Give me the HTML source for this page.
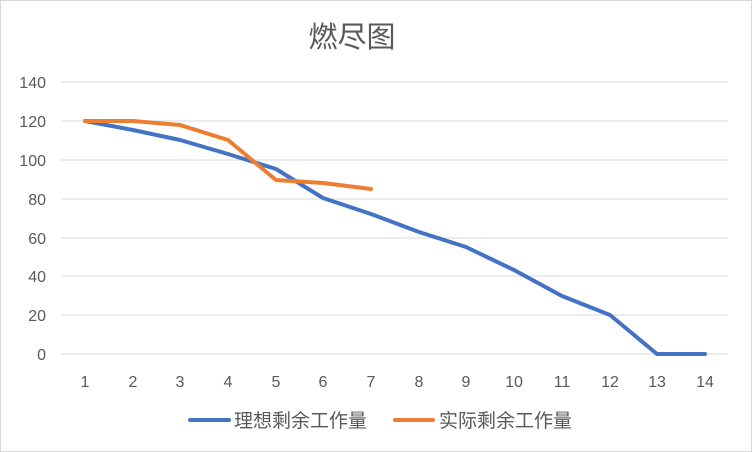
<!DOCTYPE html>
<html><head><meta charset="utf-8"><style>
html,body{margin:0;padding:0;background:#fff;}
</style></head><body>
<svg width="752" height="452" xmlns="http://www.w3.org/2000/svg" style="display:block;font-family:'Liberation Sans','Noto Sans CJK SC',sans-serif;">
<rect x="0.5" y="0.5" width="751" height="451" fill="#fff" stroke="#d9d9d9"/>
<text x="352" y="47" text-anchor="middle" font-size="29" fill="#595959">燃尽图</text>
<g stroke="#d9d9d9" stroke-width="1">
<line x1="61" x2="728" y1="82" y2="82"/><line x1="61" x2="728" y1="121" y2="121"/>
<line x1="61" x2="728" y1="160" y2="160"/><line x1="61" x2="728" y1="199" y2="199"/>
<line x1="61" x2="728" y1="238" y2="238"/><line x1="61" x2="728" y1="276" y2="276"/>
<line x1="61" x2="728" y1="315" y2="315"/><line x1="61" x2="728" y1="354" y2="354"/>
</g>
<g font-size="16" fill="#595959" text-anchor="end">
<text x="46" y="88">140</text><text x="46" y="127">120</text><text x="46" y="166">100</text>
<text x="46" y="205">80</text><text x="46" y="244">60</text><text x="46" y="282">40</text>
<text x="46" y="321">20</text><text x="46" y="360">0</text>
</g>
<g font-size="16" fill="#595959" text-anchor="middle">
<text x="85" y="387">1</text><text x="133" y="387">2</text><text x="180" y="387">3</text>
<text x="228" y="387">4</text><text x="276" y="387">5</text><text x="323" y="387">6</text>
<text x="371" y="387">7</text><text x="419" y="387">8</text><text x="466" y="387">9</text>
<text x="514" y="387">10</text><text x="562" y="387">11</text><text x="610" y="387">12</text>
<text x="657" y="387">13</text><text x="705" y="387">14</text>
</g>
<polyline fill="none" stroke="#4472c4" stroke-width="4" stroke-linejoin="round" stroke-linecap="round"
points="85,121 133,130 180,140 228,154 276,169 323,198 371,214 419,232 466,247 514,270 562,296 610,315 657,354 705,354"/>
<polyline fill="none" stroke="#ed7d31" stroke-width="4" stroke-linejoin="round" stroke-linecap="round"
points="85,121 133,121 180,125 228,140 276,180 323,183 371,189"/>
<line x1="190" x2="229" y1="420" y2="420" stroke="#4472c4" stroke-width="4" stroke-linecap="round"/>
<text x="234" y="427" font-size="19" fill="#595959">理想剩余工作量</text>
<line x1="395" x2="433" y1="420" y2="420" stroke="#ed7d31" stroke-width="4" stroke-linecap="round"/>
<text x="439" y="427" font-size="19" fill="#595959">实际剩余工作量</text>
</svg>
</body></html>
